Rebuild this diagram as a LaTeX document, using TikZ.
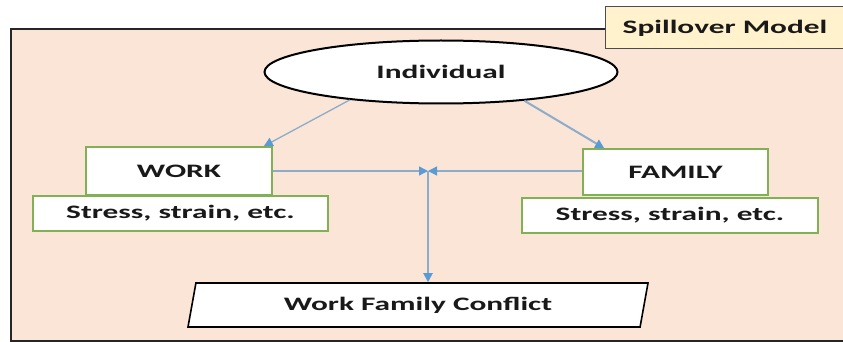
\documentclass[tikz,border=0pt]{standalone}
\usepackage{fontspec}
\newfontfamily\diagfont{Carlito}[FakeStretch=1.65]
\usetikzlibrary{arrows.meta,shapes.geometric}

\definecolor{peach}{RGB}{251,229,214}
\definecolor{cream}{RGB}{255,242,204}
\definecolor{leafgreen}{RGB}{130,176,84}
\definecolor{linkblue}{RGB}{140,172,204}
\definecolor{tipblue}{RGB}{91,155,213}

\tikzset{
  labeltext/.style={font=\diagfont\bfseries\fontsize{19}{22}\selectfont, text=black!90},
  greenbox/.style={labeltext, draw=leafgreen, line width=1.6pt, fill=white, inner sep=0pt},
  titlebox/.style={labeltext, draw=black!70, line width=1pt, fill=cream, inner sep=0pt},
  link/.style={draw=linkblue, line width=1.3pt, -{Triangle[length=9pt,width=9pt,color=tipblue]}}
}

\begin{document}
\begin{tikzpicture}[x=1pt, y=-1pt]
    \useasboundingbox (0,0) rectangle (843,342);

    % Shaded frame, open to the right
    \filldraw[fill=peach, draw=black!85, line width=2pt] (11,29) rectangle (860,340.5);

    % Title in the top right corner
    \node[titlebox, minimum width=240pt, minimum height=42pt] (title) at (725,28) {Spillover Model};

    % The individual on top
    \node[ellipse, draw=black, line width=2pt, fill=white, minimum width=353pt, minimum height=63pt, labeltext] (indiv) at (441,72) {Individual};

    % Both domains with their stress boxes below
    \node[greenbox, minimum width=186pt, minimum height=48pt] (work) at (179,171) {WORK};
    \node[greenbox, minimum width=295pt, minimum height=35pt] (workload) at (180.5,213.5) {Stress, strain, etc.};
    \node[greenbox, minimum width=185pt, minimum height=46pt] (family) at (675.5,172) {FAMILY};
    \node[greenbox, minimum width=296pt, minimum height=35pt] (familyload) at (670,215.5) {Stress, strain, etc.};

    % Outcome as a parallelogram
    \node[trapezium, trapezium left angle=71, trapezium right angle=109, trapezium stretches body,
          draw=black, line width=1.6pt, fill=white, minimum width=460pt, minimum height=44pt, labeltext]
          (wfc) at (418,305) {Work Family Conflict};

    % Point where the two spillover lines meet
    \coordinate (meet) at (428,171);

    % Arrows
    \draw[link] (indiv.197) -- ([xshift=-9pt]work.north east);
    \draw[link, line width=2pt] (indiv.341) -- ([xshift=22pt]family.north west);
    \draw[link] (work.east) -- (meet);
    \draw[link] (family.west |- meet) -- (meet);
    \draw[link, line width=2pt] (meet) -- (meet |- wfc.north);

\end{tikzpicture}
\end{document}
